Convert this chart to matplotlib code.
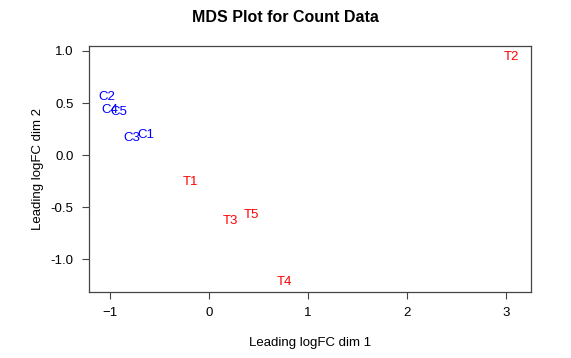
import matplotlib.pyplot as plt

plt.rcParams['font.family'] = ['Liberation Sans', 'DejaVu Sans']

labels = ['C1', 'C2', 'C3', 'C4', 'C5', 'T1', 'T2', 'T3', 'T4', 'T5']
dim1 = [-0.64, -1.03, -0.78, -1.00, -0.91, -0.19, 3.06, 0.22, 0.76, 0.43]
dim2 = [0.19, 0.56, 0.16, 0.43, 0.41, -0.26, 0.94, -0.63, -1.22, -0.58]
colors = ['blue'] * 5 + ['red'] * 5

fig = plt.figure(figsize=(5.71, 3.58), dpi=100)
ax = fig.add_axes([89 / 571, 1 - 292 / 358, (531 - 89) / 571, (292 - 46) / 358])

for lab, x, y, c in zip(labels, dim1, dim2, colors):
    ax.text(x, y, lab, color=c, fontsize=9.5, ha='center', va='center')

ax.set_xlim(-1.212, 3.253)
ax.set_ylim(-1.317, 1.048)
ax.set_xticks([-1, 0, 1, 2, 3])
ax.set_yticks([-1.0, -0.5, 0.0, 0.5, 1.0])
ax.set_yticklabels(['-1.0', '-0.5', '0.0', '0.5', '1.0'])
ax.tick_params(direction='out', length=5, labelsize=9.5, pad=6, color='#444444')
for s in ax.spines.values():
    s.set_color('#444444')
    s.set_linewidth(0.9)

ax.set_xlabel('Leading logFC dim 1', fontsize=9.5, labelpad=13)
ax.set_ylabel('Leading logFC dim 2', fontsize=9.5, labelpad=5)
fig.text(0.5, 1 - 18 / 358, 'MDS Plot for Count Data', ha='center', va='center',
         fontsize=11.5, fontweight='bold')

fig.savefig('out.png', dpi=100)
